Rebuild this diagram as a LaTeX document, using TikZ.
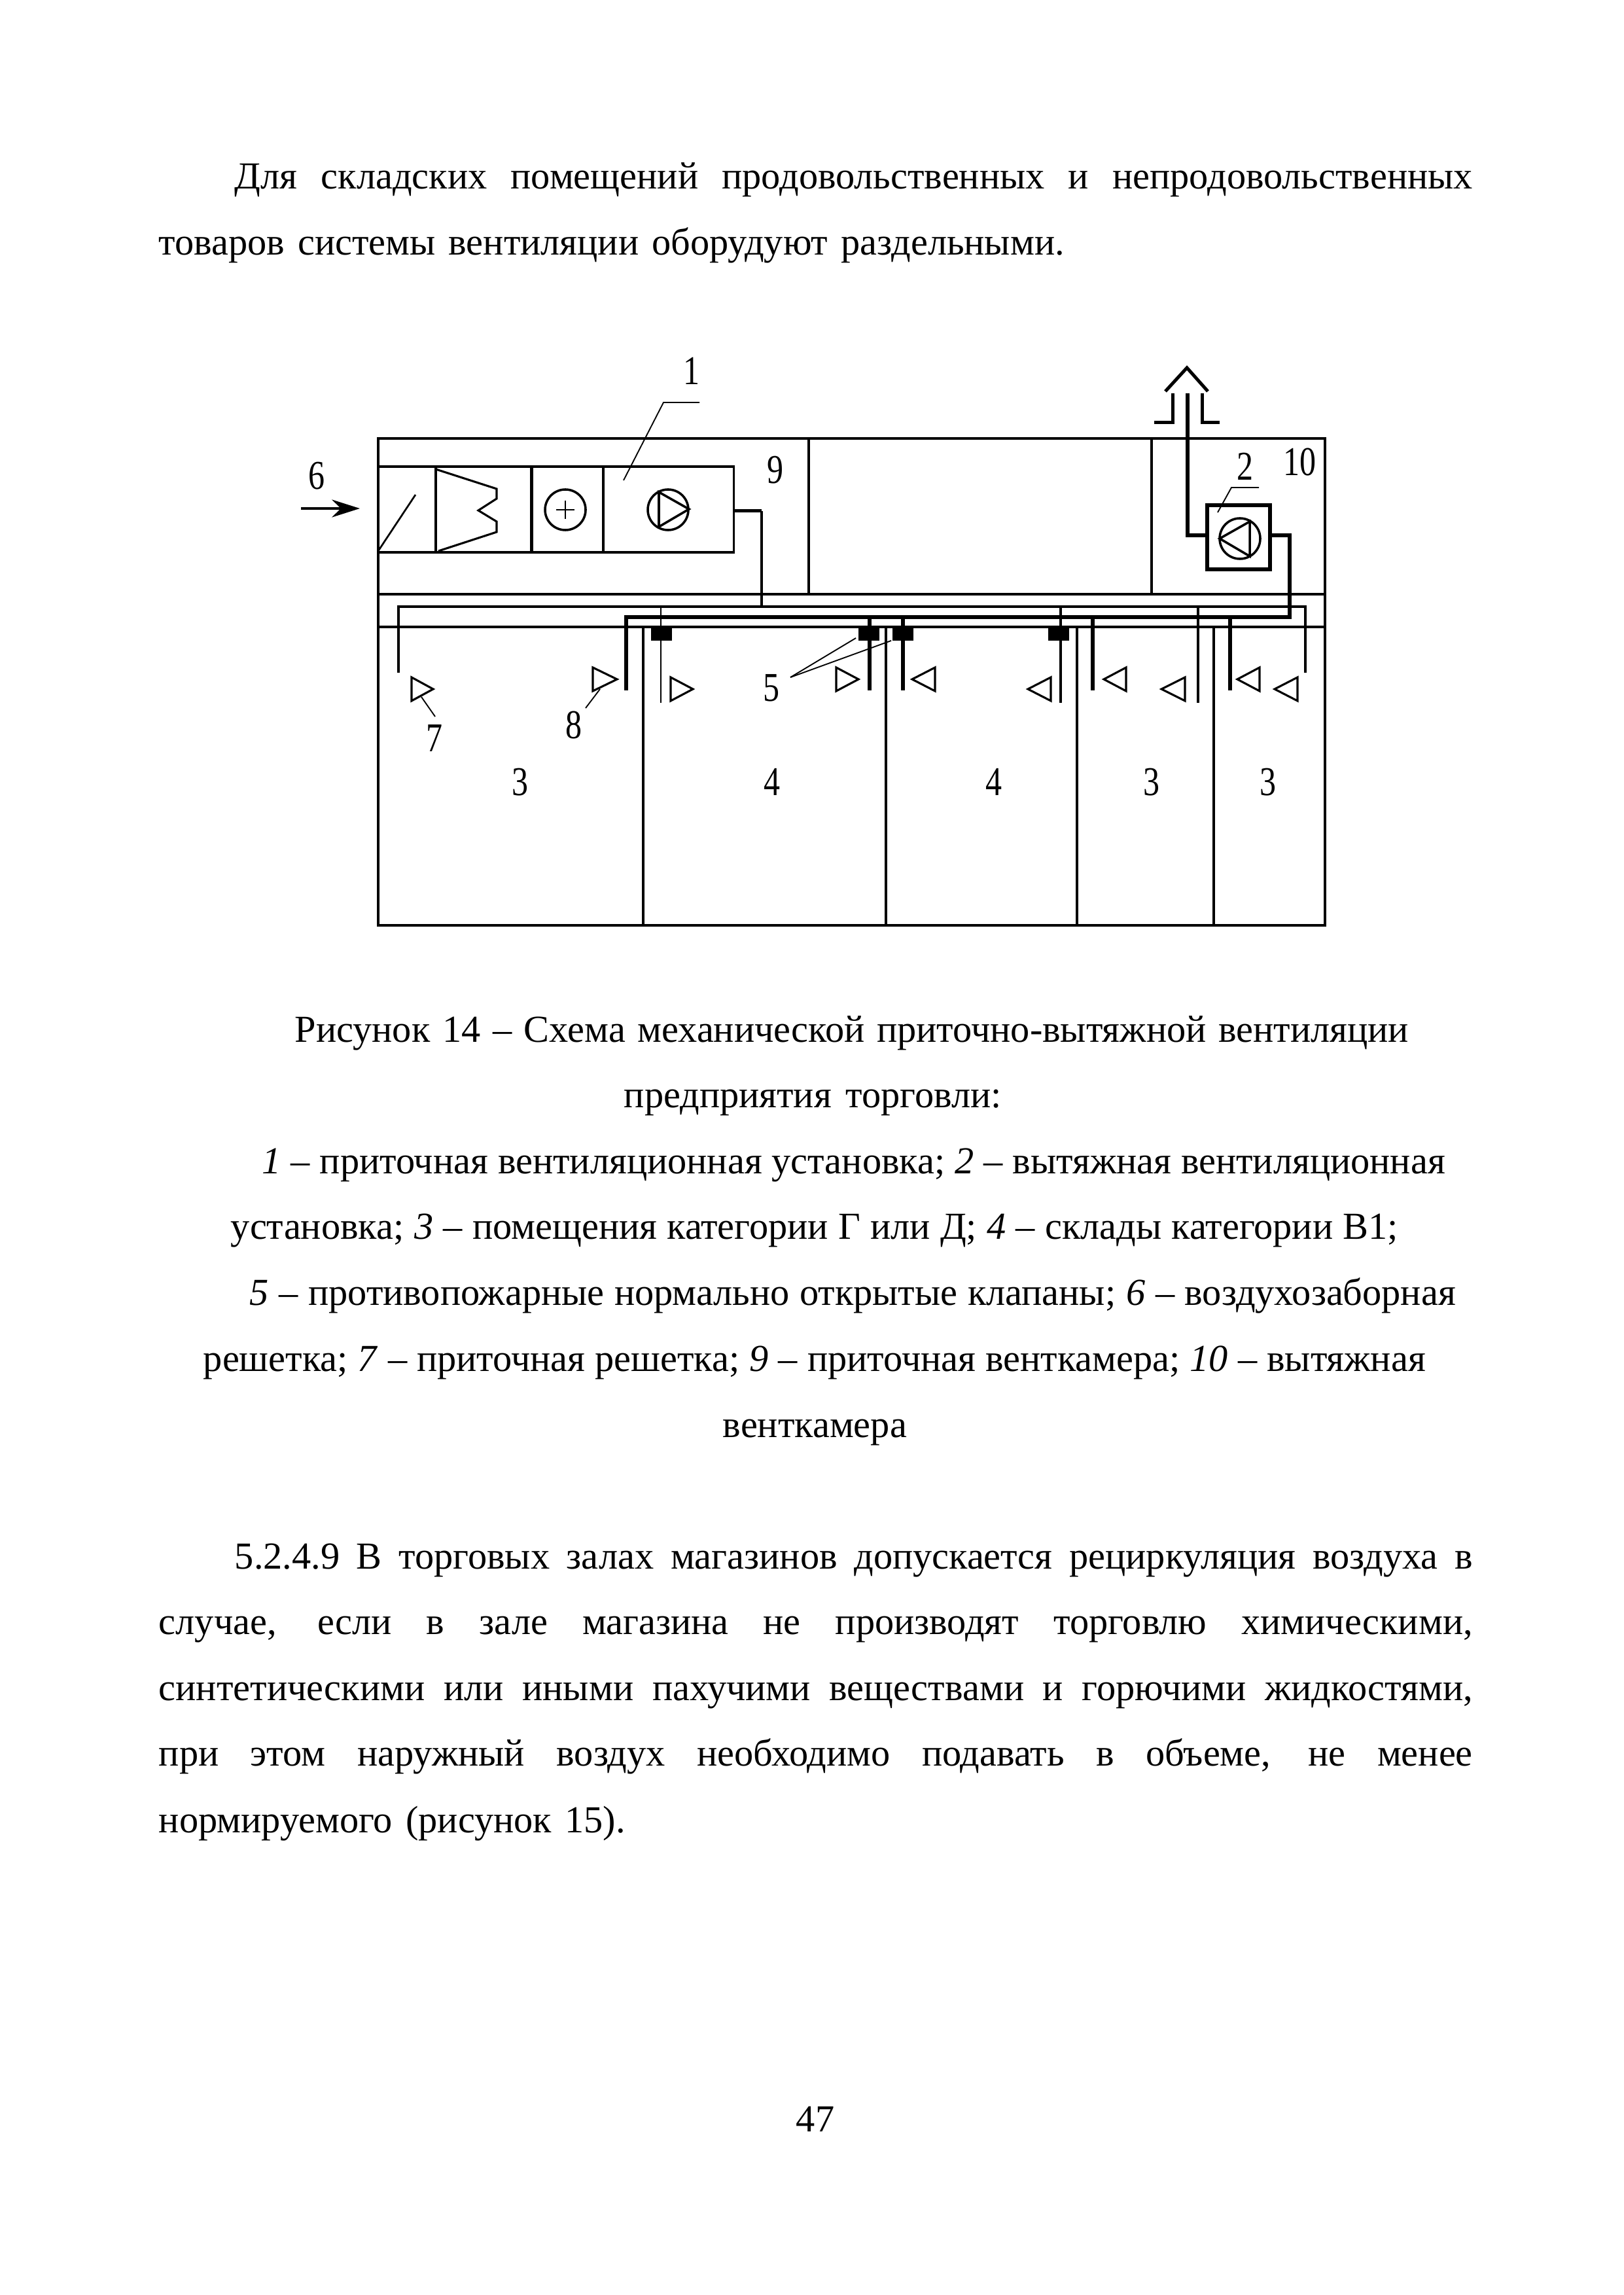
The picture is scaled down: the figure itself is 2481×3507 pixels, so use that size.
\documentclass[tikz,border=0pt]{standalone}
\usepackage{fontspec}
\setmainfont{Liberation Serif}
\newfontfamily\numfont[FakeStretch=0.8]{Liberation Serif}
\usetikzlibrary{shapes, arrows.meta, positioning}
\newlength{\upx}
\setlength{\upx}{0.24pt}
\newcommand{\tl}[5]{\node[txt] (#1) at (#2,#3) {\makebox[#4\upx][s]{#5}};}

\begin{document}
\begin{tikzpicture}[
  x=0.24pt, y=-0.24pt,
  txt/.style     = {anchor=base west, inner sep=0pt, font=\fontsize{14}{16}\selectfont},
  num/.style     = {inner sep=0pt, font=\numfont\fontsize{15}{16}\selectfont},
  wall/.style    = {line width=0.9pt},
  thinwall/.style= {line width=0.75pt},
  supply/.style  = {line width=0.85pt},
  exhaust/.style = {line width=1.45pt},
  leader/.style  = {line width=0.45pt},
  symbol/.style  = {line width=0.85pt},
  hood/.style    = {line width=1.2pt, line join=miter},
  grille/.style  = {line width=0.75pt, line join=miter},
  unit/.style    = {draw, rectangle, inner sep=0pt, outer sep=0pt},
  damper/.style  = {fill=black, rectangle, inner sep=0pt, minimum width=32\upx, minimum height=19\upx},
  fan/.style     = {draw, symbol, circle, inner sep=0pt, outer sep=0pt, minimum size=62\upx},
  >={Stealth[length=10.3pt, width=6.5pt]}]
\useasboundingbox (0,0) rectangle (2481,3507);

% text above the picture
\tl{t1}{358}{289}{1892}{Для складских помещений продовольственных и непродовольственных}
\tl{t2}{242}{390}{1384}{товаров системы вентиляции оборудуют раздельными.}

% outer walls of the building
\draw[wall] (578,670) rectangle (2025,1414);
\draw[wall, line width=1.05pt] (578,908) -- (2025,908);
\draw[thinwall] (578,958) -- (2025,958);
\draw[thinwall] (1236,670) -- (1236,908);
\draw[thinwall] (1760,670) -- (1760,908);

% partitions between the rooms
\foreach \x/\w in {983/1pt, 1354/0.85pt, 1646/1pt, 1855/0.8pt}
  \draw[line width=\w] (\x,958) -- (\x,1414);

% supply unit
\node[unit, wall] (ahu) at (850,778.5) [minimum width=543\upx, minimum height=131\upx] {};
\coordinate (s1t) at (666,713);  \coordinate (s1b) at (666,844);
\coordinate (s2t) at (812,713);  \coordinate (s2b) at (812,844);
\coordinate (s3t) at (922,713);  \coordinate (s3b) at (922,844);
\draw[wall] (s1t) -- (s1b);
\draw[line width=1.2pt] (s2t) -- (s2b);
\draw[thinwall] (s3t) -- (s3b);
\coordinate (flapa) at (578,842);
\coordinate (flapb) at (635,756);
\draw[line width=0.65pt] (flapa) -- (flapb);
\draw[line width=0.75pt] (666,717) -- (759,747) -- (759,762) -- (731,780) -- (759,797) -- (759,813) -- (670,842);
\node[fan] (heat) at (864,779) {};
\draw[line width=0.65pt] (850,779) -- (878,779) (864,765) -- (864,793);
\node[fan] (fan1) at (1021,779) {};
\draw[symbol] (1007,752) -- (1053,778) -- (1007,805) -- cycle;

% exhaust unit
\node[unit, line width=1.3pt] (ahu2) at (1893,821) [minimum width=96\upx, minimum height=98\upx] {};
\node[fan] (fan2) at (1895,823) {};
\draw[symbol] (1910,797) -- (1864,823) -- (1910,850) -- cycle;

% main ducts
\coordinate (sm1) at (609,1028);
\coordinate (sm2) at (609,927);
\coordinate (sm3) at (1995,927);
\coordinate (sm4) at (1995,1028);
\coordinate (sj) at (1164,927);
\coordinate (sk) at (1164,781);
\draw[supply] (sm1) -- (sm2) -- (sm3) -- (sm4);
\draw[line width=1.2pt] (ahu.east |- sk) -- (sk);
\draw[line width=0.75pt] (sk) -- (sj);
\coordinate (em1) at (957,1055);
\coordinate (em2) at (957,943);
\coordinate (em3) at (1971,943);
\coordinate (em4) at (1971,818);
\draw[exhaust] (em1) -- (em2) -- (em3) -- (em4) -- (ahu2.east |- em4);

% stack with hood
\coordinate (st1) at (1815,601);
\coordinate (st2) at (1815,818);
\draw[exhaust, line width=1.3pt] (st1) -- (st2) -- (ahu2.west |- st2);
\draw[hood] (1764,646) -- (1792,646) -- (1792,601);
\draw[hood] (1864,646) -- (1837,646) -- (1837,601);
\draw[hood] (1781,598) -- (1814,562) -- (1846,598);

% drops from the ducts, then the dampers over them
\foreach \x in {1329, 1380, 1670, 1880}
  \draw[exhaust, line width=1.3pt] (\x,943) -- (\x,1055);
\foreach \x/\w in {1010/0.7pt, 1621/1.05pt, 1831/0.8pt}
  \draw[line width=\w] (\x,927) -- (\x,1074);
\foreach \name/\x in {d1/1011, d2/1328, d3/1380, d4/1618}
  \node[damper] (\name) at (\x,969.5) {};

% grilles
\foreach \x/\tip/\y in {629/662/1035, 906/943/1020, 1025/1059/1035, 1278/1312/1020,
                        1429/1394/1020, 1606/1571/1035, 1721/1687/1020, 1811/1775/1035,
                        1925/1891/1020, 1983/1948/1035}
  \draw[grille] (\x,\y) -- (\tip,\y+18) -- (\x,\y+36) -- cycle;

% numbers on the picture
\node[num] (n1) at (1057,567) {1};
\node[num] (n2) at (1903,713) {2};
\node[num] (n5) at (1179,1051) {5};
\node[num] (n6) at (484,727) {6};
\node[num] (n7) at (664,1128) {7};
\node[num] (n8) at (877,1108) {8};
\node[num] (n9) at (1185,718) {9};
\node[num] (n10) at (1986,706) {10};
\foreach \name/\x/\lab in {r1/795/3, r2/1180/4, r3/1519/4, r4/1760/3, r5/1938/3}
  \node[num] (\name) at (\x,1195) {\lab};

% leaders
\coordinate (l1a) at (1069,615);
\coordinate (l1b) at (1014,615);
\coordinate (l1c) at (953,734);
\draw[leader] (l1a) -- (l1b) -- (l1c);
\coordinate (l2a) at (1924,745);
\coordinate (l2b) at (1882,745);
\coordinate (l2c) at (1861,783);
\draw[leader] (l2a) -- (l2b) -- (l2c);
\coordinate (l5) at (1208,1035);
\coordinate (l5a) at (1308,975);
\coordinate (l5b) at (1362,979);
\draw[leader] (l5) -- (l5a);
\draw[leader] (l5) -- (l5b);
\coordinate (l7a) at (665,1095);
\coordinate (l7b) at (644,1065);
\draw[leader] (l7a) -- (l7b);
\coordinate (l8a) at (895,1082);
\coordinate (l8b) at (917,1053);
\draw[leader] (l8a) -- (l8b);
\coordinate (in1) at (460,777);
\coordinate (in2) at (550,777);
\draw[->, line width=0.75pt] (in1) -- (in2);

% caption
\tl{c1}{450}{1592}{1702}{Рисунок 14 – Схема механической приточно-вытяжной вентиляции}
\tl{c2}{953}{1692}{577}{предприятия торговли:}
\tl{c3}{400}{1793}{1808}{\textit{1} – приточная вентиляционная установка; \textit{2} – вытяжная вентиляционная}
\tl{c4}{352}{1893}{1784}{установка; \textit{3} – помещения категории Г или Д; \textit{4} – склады категории В1;}
\tl{c5}{381}{1994}{1843}{\textit{5} – противопожарные нормально открытые клапаны; \textit{6} – воздухозаборная}
\tl{c6}{310}{2095}{1868}{решетка; \textit{7} – приточная решетка; \textit{9} – приточная венткамера; \textit{10} – вытяжная}
\tl{c7}{1104}{2196}{283}{венткамера}

% text below the picture
\tl{b1}{358}{2397}{1892}{5.2.4.9 В торговых залах магазинов допускается рециркуляция воздуха в}
\tl{b2}{242}{2497}{2008}{случае, если в зале магазина не производят торговлю химическими,}
\tl{b3}{242}{2598}{2008}{синтетическими или иными пахучими веществами и горючими жидкостями,}
\tl{b4}{242}{2698}{2008}{при этом наружный воздух необходимо подавать в объеме, не менее}
\tl{b5}{242}{2800}{713}{нормируемого (рисунок 15).}
\node[txt, anchor=base] (page) at (1246,3257) {47};
\end{tikzpicture}
\end{document}
